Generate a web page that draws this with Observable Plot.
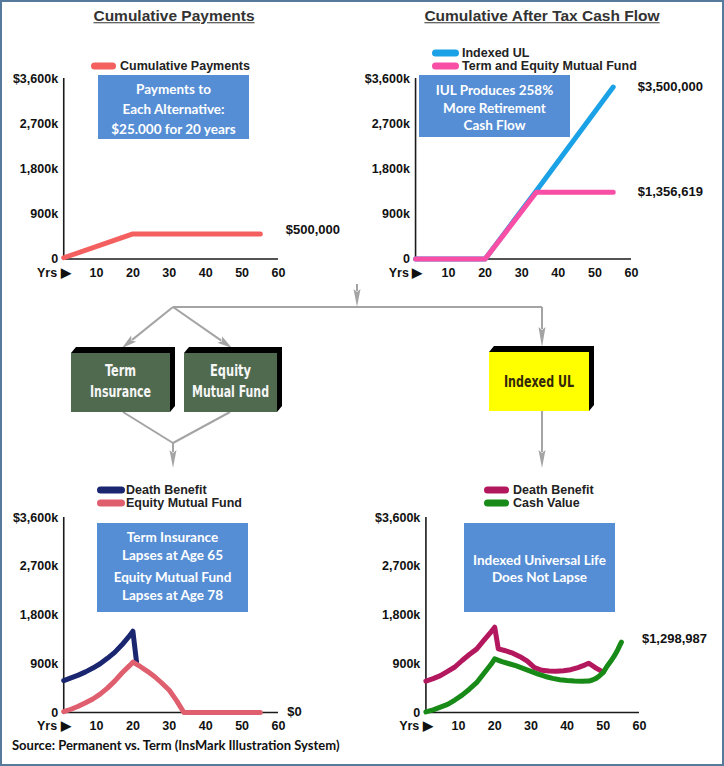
<!DOCTYPE html>
<html><head><meta charset="utf-8">
<script src="https://cdn.jsdelivr.net/npm/d3@7"></script>
<script src="https://cdn.jsdelivr.net/npm/@observablehq/plot@0.6"></script>
<style>
html,body{margin:0;padding:0;background:#fff;}
#root{position:relative;width:724px;height:766px;overflow:hidden;background:#fff;font-family:"Liberation Sans",Arial,sans-serif;}
.frame{position:absolute;left:0;top:0;width:724px;height:766px;box-sizing:border-box;border:2px solid #557a9c;pointer-events:none;}
.title{position:absolute;white-space:nowrap;font-weight:bold;font-size:15.5px;color:#333;text-decoration:underline;transform:translate(-50%,-50%);line-height:1;}
.leg{position:absolute;white-space:nowrap;font-weight:bold;font-size:12.5px;color:#222;transform:translateY(-50%);line-height:11px;}
.sw{position:absolute;height:7px;border-radius:3.5px;transform:translateY(-50%);}
.box{position:absolute;background:#558ed5;}
.boxline{position:absolute;font-family:Lato,"Open Sans",sans-serif;font-weight:bold;font-size:13.5px;color:#fff;transform:translate(-50%,-50%);white-space:nowrap;line-height:1;}
.src{position:absolute;left:12px;top:745px;transform:translateY(-50%);font-family:Lato,"Open Sans",sans-serif;font-weight:bold;font-size:13px;color:#111;white-space:nowrap;line-height:1;}
</style>
</head>
<body>
<div id="root"></div>
<script>
// ---------- data ----------
const yTickValues = [0, 900, 1800, 2700, 3600];           // thousands of dollars
const yTickLabels = ["0", "900k", "1,800k", "2,700k", "$3,600k"];
const xTickValues = [10, 20, 30, 40, 50, 60];
const xLeadLabel = "Yrs \u25B6";

// Chart 1: Cumulative Payments
const paymentYears = [1, 20, 55];
const cumulativePayments = [25, 500, 500];
const paymentsEndLabel = "$500,000";

// Chart 2: Cumulative After Tax Cash Flow
const cashFlowYears = [1, 20, 34, 55];
const iulCashFlow = [0, 0, 1360, 3430];
const termEquityCashFlow = [0, 0, 1330, 1330];
const iulEndLabel = "$3,500,000";
const termEquityEndLabel = "$1,356,619";

// Chart 3: Term insurance + equity mutual fund
const termDbYears = [1, 3, 5, 7, 9, 11, 13, 15, 17, 19, 20, 21];
const termDeathBenefit = [590, 640, 690, 750, 820, 900, 1000, 1110, 1250, 1410, 1500, 930];
const equityYears = [1, 3, 5, 7, 9, 11, 13, 15, 17, 19, 20, 22, 24, 26, 28, 30, 32, 34, 55];
const equityFund = [15, 60, 115, 180, 250, 340, 450, 580, 730, 860, 930, 850, 760, 660, 540, 410, 220, 0, 0];
const equityEndLabel = "$0";

// Chart 4: Indexed UL
const iulDbYears = [1, 3, 5, 7, 9, 11, 13, 15, 17, 19, 20, 21, 23, 25, 27, 29, 31, 33, 35, 37, 39, 41, 43, 45, 46, 48, 50];
const iulDeathBenefit = [580, 625, 680, 760, 840, 960, 1070, 1170, 1330, 1490, 1575, 1175, 1140, 1095, 1030, 950, 830, 780, 765, 760, 770, 790, 830, 880, 910, 820, 745];
const cvYears = [1, 3, 5, 7, 9, 11, 13, 15, 17, 19, 20, 22, 24, 26, 28, 30, 32, 34, 36, 38, 40, 42, 44, 46, 47, 48, 49, 50, 51, 52, 53, 54, 55];
const cashValue = [10, 50, 100, 150, 230, 320, 430, 550, 720, 890, 990, 940, 900, 860, 810, 760, 710, 665, 630, 605, 590, 580, 578, 580, 600, 630, 680, 740, 850, 940, 1040, 1160, 1299];
const cashValueEndLabel = "$1,298,987";

// ---------- helpers ----------
const root = document.getElementById("root");
const rows = (xs, ys) => xs.map((x, i) => ({year: x, value: ys[i]}));
const last = a => [a[a.length - 1]];

function chart(cfg) {
  const {left, top, width, height, x0, x60, y0, y3600, lines, labels, leadDy, tickPad} = cfg;
  const marks = [
    Plot.ruleX([1], {stroke: "#1a1a1a", strokeWidth: 1.6}),
    Plot.ruleY([0], {x1: 1, x2: 60, stroke: "#1a1a1a", strokeWidth: 1.6}),
    Plot.axisY(yTickValues, {tickSize: 0, tickPadding: 2, label: null, fontWeight: "bold",
      tickFormat: d => yTickLabels[yTickValues.indexOf(d)]}),
    Plot.axisX(xTickValues, {tickSize: 0, tickPadding: tickPad, label: null, fontWeight: "bold"}),
    Plot.text([{t: xLeadLabel, year: 0, value: 0}], {x: "year", y: "value", text: "t", textAnchor: "end", dx: 10.5, dy: leadDy, fontWeight: "bold"})
  ];
  for (const s of lines) {
    marks.push(Plot.line(s.data, {x: "year", y: "value", stroke: s.color, strokeWidth: 5, strokeLinecap: "round", strokeLinejoin: "round"}));
  }
  for (const l of labels) {
    marks.push(Plot.text(l.data, {x: "year", y: "value", text: () => l.text, textAnchor: "start", dx: l.dx, dy: l.dy, fontSize: 13, fontWeight: "bold"}));
  }
  const svg = Plot.plot({
    width, height,
    marginLeft: x0 - left, marginRight: left + width - x60,
    marginTop: y3600 - top, marginBottom: top + height - y0,
    x: {domain: [0, 60]},
    y: {domain: [0, 3600]},
    style: {fontFamily: "'Liberation Sans', Arial, sans-serif", fontSize: "12.5px", fontWeight: "bold", color: "#111", background: "transparent", overflow: "visible"},
    marks
  });
  svg.style.position = "absolute";
  svg.style.left = left + "px";
  svg.style.top = top + "px";
  svg.style.maxWidth = "none";
  root.appendChild(svg);
}

function title(text, cx, cy) {
  const d = document.createElement("div");
  d.className = "title"; d.textContent = text;
  d.style.left = cx + "px"; d.style.top = cy + "px";
  root.appendChild(d);
}
function legend(x, w, textX, cy, color, text) {
  const s = document.createElement("div");
  s.className = "sw"; s.style.left = x + "px"; s.style.top = cy + "px"; s.style.width = w + "px"; s.style.background = color;
  root.appendChild(s);
  const t = document.createElement("div");
  t.className = "leg"; t.textContent = text; t.style.left = textX + "px"; t.style.top = cy + "px";
  root.appendChild(t);
}
function box(x1, y1, x2, y2, lines) {
  const b = document.createElement("div");
  b.className = "box";
  b.style.left = x1 + "px"; b.style.top = y1 + "px"; b.style.width = (x2 - x1) + "px"; b.style.height = (y2 - y1) + "px";
  root.appendChild(b);
  for (const [txt, cy] of lines) {
    const t = document.createElement("div");
    t.className = "boxline"; t.textContent = txt;
    t.style.left = ((x1 + x2) / 2) + "px"; t.style.top = cy + "px";
    root.appendChild(t);
  }
}

// ---------- charts ----------
const C = {
  pay: "#f4605f", iul: "#1aa1e6", te: "#f94ea5",
  db: "#1a2670", eq: "#df5f6e", iulDb: "#b3175d", cv: "#178a17"
};

chart({left: 0, top: 60, width: 362, height: 230, x0: 59.6, x60: 278, y0: 258.5, y3600: 78, tickPad: 9.5, leadDy: 14,
  lines: [{data: rows(paymentYears, cumulativePayments), color: C.pay}],
  labels: [{data: last(rows(paymentYears, cumulativePayments)), text: paymentsEndLabel, dx: 25.5, dy: -4.5}]});

chart({left: 362, top: 60, width: 362, height: 230, x0: 411.4, x60: 631, y0: 258.5, y3600: 78, tickPad: 9.5, leadDy: 14,
  lines: [{data: rows(cashFlowYears, iulCashFlow), color: C.iul}, {data: rows(cashFlowYears, termEquityCashFlow), color: C.te}],
  labels: [{data: last(rows(cashFlowYears, iulCashFlow)), text: iulEndLabel, dx: 24.6, dy: 0},
           {data: last(rows(cashFlowYears, termEquityCashFlow)), text: termEquityEndLabel, dx: 24.6, dy: 0}]});

chart({left: 0, top: 500, width: 362, height: 240, x0: 59.6, x60: 278, y0: 712, y3600: 517, tickPad: 8.5, leadDy: 13.5,
  lines: [{data: rows(termDbYears, termDeathBenefit), color: C.db}, {data: rows(equityYears, equityFund), color: C.eq}],
  labels: [{data: last(rows(equityYears, equityFund)), text: equityEndLabel, dx: 27, dy: -1}]});

chart({left: 362, top: 500, width: 362, height: 240, x0: 421.8, x60: 639, y0: 712, y3600: 517, tickPad: 8.5, leadDy: 13.5,
  lines: [{data: rows(iulDbYears, iulDeathBenefit), color: C.iulDb}, {data: rows(cvYears, cashValue), color: C.cv}],
  labels: [{data: last(rows(cvYears, cashValue)), text: cashValueEndLabel, dx: 20.5, dy: -3.3}]});

// ---------- titles, legends, boxes ----------
title("Cumulative Payments", 174, 16);
title("Cumulative After Tax Cash Flow", 542, 16);

legend(91, 25, 120, 65.5, C.pay, "Cumulative Payments");
legend(432, 27, 462, 52.5, C.iul, "Indexed UL");
legend(432, 27, 462, 65.5, C.te, "Term and Equity Mutual Fund");
legend(97, 28, 126, 490, C.db, "Death Benefit");
legend(97, 28, 126, 502.5, C.eq, "Equity Mutual Fund");
legend(484, 25, 513, 490, C.iulDb, "Death Benefit");
legend(484, 25, 513, 502.5, C.cv, "Cash Value");

box(98, 75, 249, 139, [["Payments to", 90], ["Each Alternative:", 109.5], ["$25.000 for 20 years", 130]]);
box(419, 75, 570, 137, [["IUL Produces 258%", 91], ["More Retirement", 108.5], ["Cash Flow", 126]]);
box(97, 523, 248, 612, [["Term Insurance", 538], ["Lapses at Age 65", 556], ["Equity Mutual Fund", 578], ["Lapses at Age 78", 596]]);
box(464, 523, 615, 612, [["Indexed Universal Life", 561], ["Does Not Lapse", 578]]);

// ---------- flowchart ----------
const fc = d3.select(root).append("svg")
  .attr("width", 724).attr("height", 766)
  .style("position", "absolute").style("left", "0px").style("top", "0px").style("pointer-events", "none");
const gray = "#a4a4a4";
function seg(x1, y1, x2, y2) {
  fc.append("line").attr("x1", x1).attr("y1", y1).attr("x2", x2).attr("y2", y2)
    .attr("stroke", gray).attr("stroke-width", 2);
}
function arrow(x1, y1, x2, y2, L, hw) {
  const dx = x2 - x1, dy = y2 - y1, len = Math.hypot(dx, dy), ux = dx / len, uy = dy / len;
  const bx = x2 - ux * L, by = y2 - uy * L;
  seg(x1, y1, bx + ux * 2, by + uy * 2);
  fc.append("path")
    .attr("d", `M${x2},${y2}L${bx - uy * hw},${by + ux * hw}L${bx + ux * 3},${by + uy * 3}L${bx + uy * hw},${by - ux * hw}Z`)
    .attr("fill", gray);
}
function box3d(x, y, w, h, fill, lines, color) {
  const d = 5, e = 6;
  fc.append("path")
    .attr("d", `M${x},${y}L${x + d},${y - e}L${x + w + d},${y - e}L${x + w + d},${y + h - e}L${x + w},${y + h}Z`)
    .attr("fill", "#000");
  fc.append("rect").attr("x", x).attr("y", y).attr("width", w).attr("height", h).attr("fill", fill);
  for (const [t, cy, tl] of lines) {
    fc.append("text").attr("x", x + w / 2).attr("y", cy).attr("dy", "0.36em")
      .attr("text-anchor", "middle")
      .attr("textLength", tl).attr("lengthAdjust", "spacingAndGlyphs")
      .style("font-family", "'Liberation Sans Narrow','DejaVu Sans Condensed','Roboto Condensed',Roboto,sans-serif")
      .style("font-weight", "bold").style("font-size", "15.5px").attr("fill", color).text(t);
  }
}
arrow(357, 284, 357, 307, 18, 3.5);
seg(173, 307, 542, 307);
arrow(173, 307, 122, 348, 15, 4);
arrow(173, 307, 232, 348, 15, 4);
arrow(542, 307, 542, 347, 20, 3.5);
seg(123, 412, 173, 443);
seg(230, 412, 173, 443);
arrow(173, 443, 173, 468, 18, 3.5);
arrow(542, 411, 542, 468, 18, 3.5);
box3d(71, 353, 99, 59, "#506a50", [["Term", 370.7, 31], ["Insurance", 391.7, 61]], "#f6f6f6");
box3d(184, 353, 93, 59, "#506a50", [["Equity", 370.7, 41], ["Mutual Fund", 391.7, 77]], "#f6f6f6");
box3d(489, 352, 100, 59, "#ffff00", [["Indexed UL", 381.7, 70]], "#33290a");

// ---------- source & frame ----------
const src = document.createElement("div");
src.className = "src";
src.textContent = "Source: Permanent vs. Term (InsMark Illustration System)";
root.appendChild(src);
const fr = document.createElement("div");
fr.className = "frame";
root.appendChild(fr);
</script>
</body></html>
